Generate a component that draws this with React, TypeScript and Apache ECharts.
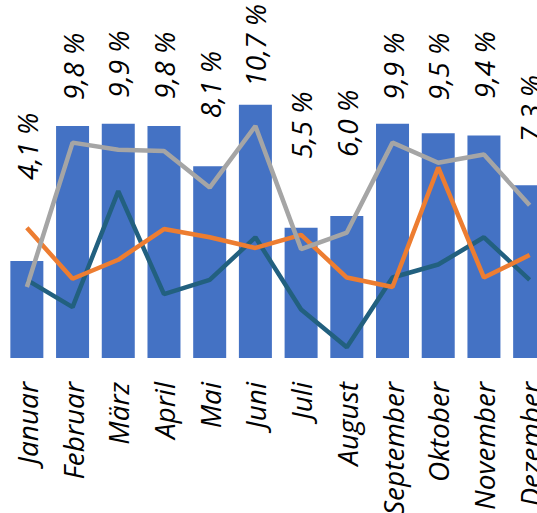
import React, { useEffect, useRef } from "react";
import * as echarts from "echarts";

const months = ["Januar", "Februar", "März", "April", "Mai", "Juni", "Juli", "August", "September", "Oktober", "November", "Dezember"];
const barValues = [4.1, 9.8, 9.9, 9.8, 8.1, 10.7, 5.5, 6.0, 9.9, 9.5, 9.4, 7.3];
const grayValues = [3.0, 9.1, 8.8, 8.75, 7.2, 9.8, 4.6, 5.3, 9.1, 8.25, 8.6, 6.45];
const orangeValues = [5.5, 3.35, 4.15, 5.45, 5.1, 4.65, 5.2, 3.4, 3.0, 8.05, 3.4, 4.35];
const tealValues = [3.3, 2.15, 7.05, 2.7, 3.3, 5.1, 2.05, 0.45, 3.4, 3.95, 5.1, 3.3];
// label distance above bar top (px), as placed in the reference
const labelGap = [81, 26, 26, 27, 48, 18, 69, 59, 24, 33, 37, 43];

const FONT = "Open Sans";

export default function App() {
  const ref = useRef<HTMLDivElement>(null);
  useEffect(() => {
    if (!ref.current) return;
    const chart = echarts.init(ref.current, undefined, { renderer: "svg" });
    chart.setOption({
      animation: false,
      grid: { left: 4, right: 7.5, top: 3, bottom: 155, containLabel: false, outerBoundsMode: "none" },
      xAxis: {
        type: "category",
        data: months,
        boundaryGap: true,
        axisLine: { show: false },
        axisTick: { show: false },
        axisLabel: {
          rotate: 90,
          interval: 0,
          margin: 24,
          fontFamily: FONT,
          fontStyle: "italic",
          fontSize: 28,
          color: "#000",
          hideOverlap: false,
        },
      },
      yAxis: { type: "value", min: 0, max: 15, show: false, splitLine: { show: false } },
      series: [
        {
          type: "bar",
          data: barValues.map((v, i) => ({
            value: v,
            label: { distance: labelGap[i] },
          })),
          barWidth: 33,
          itemStyle: { color: "#4472C4" },
          z: 1,
          label: {
            show: true,
            position: "top",
            rotate: 90,
            align: "left",
            verticalAlign: "middle",
            fontFamily: FONT,
            fontStyle: "italic",
            fontSize: 28,
            color: "#000",
            formatter: (p: any) => p.value.toFixed(1).replace(".", ",") + " %",
          },
        },
        {
          type: "line",
          data: tealValues,
          symbol: "none",
          lineStyle: { color: "#22607F", width: 4.5 },
          z: 2,
        },
        {
          type: "line",
          data: orangeValues,
          symbol: "none",
          lineStyle: { color: "#ED7D31", width: 4.5 },
          z: 3,
        },
        {
          type: "line",
          data: grayValues,
          symbol: "none",
          lineStyle: { color: "#A5A5A5", width: 4.5 },
          z: 4,
        },
      ],
    });
    return () => chart.dispose();
  }, []);
  return (
    <div style={{ position: "fixed", left: 0, top: 0, width: 537, height: 513, overflow: "hidden", background: "#fff" }}>
      <div ref={ref} style={{ width: 560, height: 513 }} />
    </div>
  );
}
